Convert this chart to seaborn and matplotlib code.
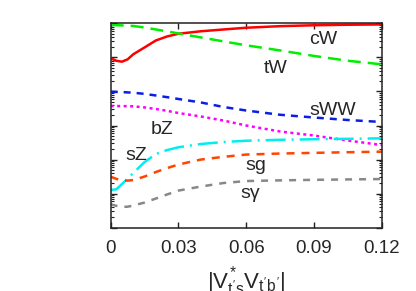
import numpy as np
import pandas as pd
import matplotlib
matplotlib.use("Agg")
import matplotlib.pyplot as plt
import seaborn as sns

# mixing |V*_t's V_t'b'| and branching ratios
mixing = [0, 0.0025, 0.005, 0.0075, 0.01, 0.015, 0.02, 0.025, 0.03,
          0.04, 0.05, 0.06, 0.075, 0.09, 0.105, 0.12]

br_cW = [0.0947, 0.080, 0.0752, 0.088, 0.124, 0.197, 0.316, 0.415, 0.498,
         0.590, 0.666, 0.748, 0.833, 0.885, 0.916, 0.935]
br_tW = [0.904, 0.89, 0.876, 0.86, 0.844, 0.76, 0.666, 0.585, 0.508,
         0.388, 0.296, 0.228, 0.161, 0.111, 0.080, 0.063]
br_sWW = [0.00987, 0.0097, 0.0096, 0.0094, 0.00922, 0.0085, 0.00763, 0.0068, 0.00602,
          0.00475, 0.0035, 0.00276, 0.00207, 0.00172, 0.00145, 0.00127]
br_bZ = [0.00375, 0.00374, 0.00372, 0.0037, 0.00367, 0.0034, 0.00306, 0.0027, 0.00233,
         0.00184, 0.0014, 0.001, 0.000667, 0.000508, 0.000362, 0.000267]
br_sZ = [1.27e-5, 1.33e-5, 1.9e-5, 2.76e-5, 4.0e-5, 8.4e-5, 1.45e-4, 1.9e-4, 2.29e-4,
         2.86e-4, 3.27e-4, 3.57e-4, 3.8e-4, 3.95e-4, 4.06e-4, 4.2e-4]
br_sg = [3.12e-5, 2.7e-5, 2.41e-5, 2.4e-5, 2.49e-5, 3.16e-5, 4.29e-5, 5.6e-5, 7.13e-5,
         1.0e-4, 1.2e-4, 1.4e-4, 1.5e-4, 1.57e-4, 1.64e-4, 1.7e-4]
br_sgamma = [4.81e-6, 4.35e-6, 4.06e-6, 4.1e-6, 4.44e-6, 5.43e-6, 7.13e-6, 9.4e-6, 1.22e-5,
             1.61e-5, 2.04e-5, 2.33e-5, 2.44e-5, 2.53e-5, 2.6e-5, 2.67e-5]

channels = ["cW", "tW", "sWW", "bZ", "sZ", "sg", "sγ"]
series = [br_cW, br_tW, br_sWW, br_bZ, br_sZ, br_sg, br_sgamma]

xticks = [0, 0.03, 0.06, 0.09, 0.12]
xtick_labels = ["0", "0.03", "0.06", "0.09", "0.12"]

colors = {
    "cW": "#ff0000", "tW": "#00ee00", "sWW": "#0a1ee6", "bZ": "#ff00ff",
    "sZ": "#00eeee", "sg": "#ff4500", "sγ": "#888888",
}
dashes = {
    "cW": "", "tW": (5.2, 2.8), "sWW": (2.8, 2.4), "bZ": (1.2, 1.4),
    "sZ": (8, 2.4, 0.8, 2.4), "sg": (3.2, 2.8), "sγ": (2.8, 2.8),
}

df = pd.concat(
    [pd.DataFrame({"mix": mixing, "br": vals, "channel": name})
     for name, vals in zip(channels, series)],
    ignore_index=True,
)

sns.set_theme(style="ticks")
plt.rcParams["font.family"] = ["Liberation Sans", "DejaVu Sans"]
plt.rcParams["mathtext.fontset"] = "custom"
plt.rcParams["mathtext.rm"] = "Liberation Sans"
plt.rcParams["mathtext.it"] = "Liberation Sans"

fig = plt.figure(figsize=(4.16, 2.91), dpi=100)
ax = fig.add_axes([0.266, 0.218, 0.6515, 0.7014])

sns.lineplot(
    data=df, x="mix", y="br", hue="channel", style="channel",
    hue_order=channels, style_order=channels,
    palette=colors, dashes=dashes, linewidth=1.8, legend=False, ax=ax,
)

ax.set_yscale("log")
ax.set_ylim(1e-6, 1)
ax.set_xlim(0, 0.12)
ax.set_xticks(xticks)
ax.set_xticklabels(xtick_labels)
ax.yaxis.set_major_locator(matplotlib.ticker.LogLocator(base=10, numticks=10))
ax.yaxis.set_minor_locator(matplotlib.ticker.LogLocator(base=10, subs=np.arange(2, 10), numticks=20))
ax.tick_params(which="both", direction="in", top=True, right=True,
               labelleft=False, labelsize=13.5, pad=9, color="#222222")
ax.tick_params(which="major", length=4, width=1)
ax.tick_params(which="minor", length=2.5, width=0.8)
for sp in ax.spines.values():
    sp.set_linewidth(1.1)
    sp.set_color("#222222")

ax.set_xlabel(r"$|V^{*}_{t's}V_{t'b'}|$", fontsize=16, labelpad=5)
ax.set_ylabel("")

# curve labels
fs = 14
ax.text(0.0878, 0.245, "cW", fontsize=fs, va="baseline")
ax.text(0.0679, 0.0343, "tW", fontsize=fs, va="baseline")
ax.text(0.0878, 0.00204, "sWW", fontsize=fs, va="baseline")
ax.text(0.0177, 5.62e-4, "bZ", fontsize=fs, va="baseline")
ax.text(0.00664, 9.67e-5, "sZ", fontsize=fs, va="baseline")
ax.text(0.0598, 4.91e-5, "sg", fontsize=fs, va="baseline")
ax.text(0.0576, 7.22e-6, "sγ", fontsize=fs, va="baseline")

fig.savefig("out.png", dpi=100)
